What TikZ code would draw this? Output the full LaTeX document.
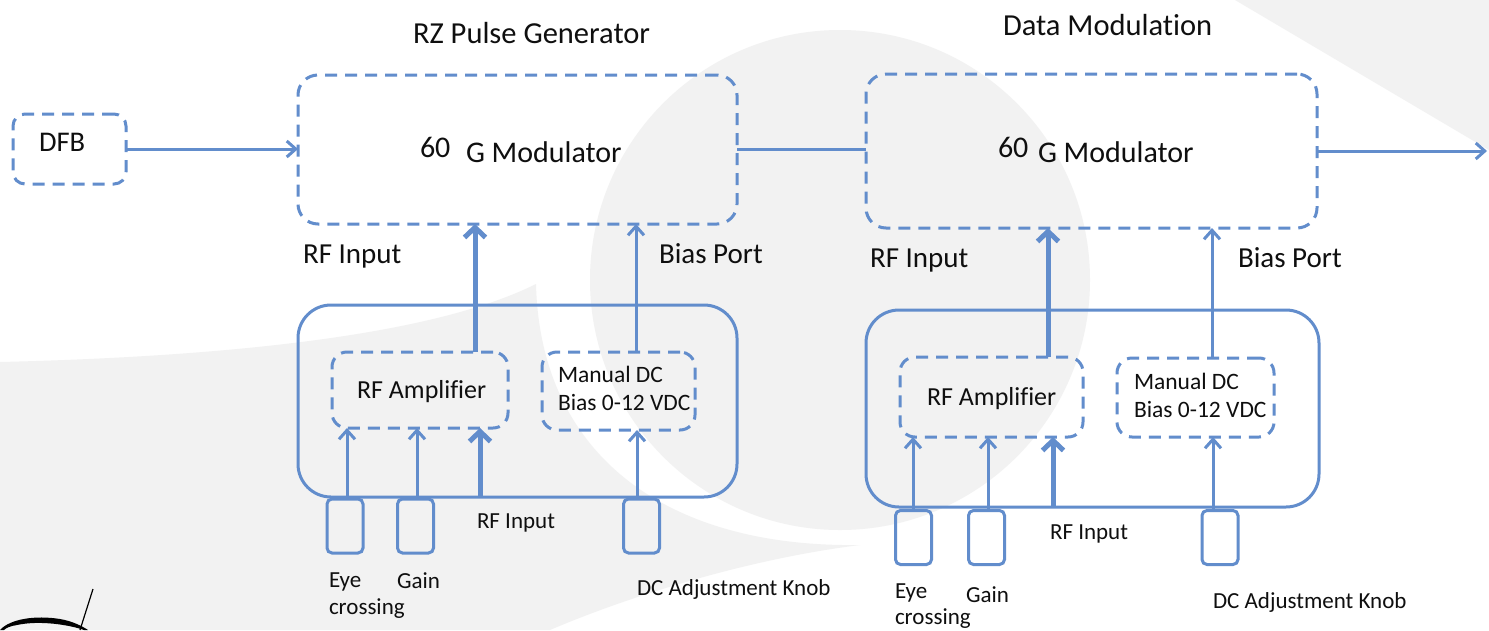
\documentclass[tikz,border=0pt]{standalone}
\usepackage{fontspec}
\setmainfont{Carlito}[Ligatures=NoCommon]
\usetikzlibrary{arrows.meta,calc}
\definecolor{lb}{RGB}{98,141,204}
\definecolor{bg}{RGB}{242,242,242}
\definecolor{ink}{RGB}{15,15,15}
\begin{document}
\begin{tikzpicture}[x=1pt,y=-1pt,
  every node/.style={inner sep=0pt,outer sep=0pt,text=ink},
  dbox/.style={draw=lb,line width=3pt,dash pattern=on 12pt off 8pt,rounded corners=#1},
  sbox/.style={draw=lb,line width=3pt,rounded corners=#1},
  knob/.style={draw=lb,line width=3pt,rounded corners=5pt,minimum width=36pt,minimum height=54pt},
  conn/.style={draw=lb,line width=3pt},
  arr/.style={draw=lb,line width=3pt,-{Straight Barb[length=9pt,width=16pt]}},
  bigarr/.style={draw=lb,line width=5pt,-{Straight Barb[length=10pt,width=21pt]}},
  ttl/.style={anchor=base west,font=\fontsize{30.5}{36}\selectfont},
  modt/.style={anchor=base west,font=\fontsize{30}{36}\selectfont},
  port/.style={anchor=base west,font=\fontsize{29}{34}\selectfont},
  ampt/.style={anchor=base west,font=\fontsize{26}{31}\selectfont},
  dct/.style={anchor=base west,align=left,font=\fontsize{23.5}{28}\selectfont},
  smt/.style={anchor=base west,align=left,font=\fontsize{23}{27}\selectfont}
]
\useasboundingbox (0,0) rectangle (1489,630);
% background
\fill[white] (0,0) rectangle (1489,630);
\fill[bg] (1235,0) -- (1489,0) -- (1489,150) -- cycle;
\fill[bg] (840,280) circle[radius=250pt];
\fill[bg] (0,362) .. controls (250,356) and (440,332) .. (536,284)
  .. controls (540,450) and (660,548) .. (860,545)
  .. controls (740,560) and (620,600) .. (550,630) -- (0,630) -- cycle;
% logo fragment
\draw[line width=1.2pt] (93,589) -- (80,630);
\fill (0,630) .. controls (10,619) and (35,615) .. (60,619)
  .. controls (72,621) and (82,626) .. (88,630) -- (84,630)
  .. controls (70,625) and (40,620) .. (17,625)
  .. controls (10,626) and (6,628) .. (4,630) -- cycle;

% boxes
\node[dbox=12pt,minimum width=113pt,minimum height=70pt] (dfb) at (69.5,149) {};
\node[dbox=20pt,minimum width=439pt,minimum height=149pt] (mod1) at (517.5,149.5) {};
\node[dbox=20pt,minimum width=451pt,minimum height=154pt] (mod2) at (1091.5,151) {};
\node[sbox=33pt,minimum width=439pt,minimum height=192pt] (big1) at (517.5,401) {};
\node[sbox=33pt,minimum width=453pt,minimum height=197pt] (big2) at (1092.5,408.5) {};
\node[dbox=15pt,minimum width=176pt,minimum height=76pt] (amp1) at (420,390) {};
\node[dbox=15pt,minimum width=183pt,minimum height=80pt] (amp2) at (991.5,397) {};
\node[dbox=15pt,minimum width=153pt,minimum height=78pt] (dc1) at (618.5,391) {};
\node[dbox=15pt,minimum width=157pt,minimum height=79pt] (dc2) at (1195.5,397.5) {};
\node[knob] (eye1) at (345,526) {};
\node[knob] (gain1) at (415.5,526) {};
\node[knob] (dck1) at (641.5,526) {};
\node[knob] (eye2) at (913.5,537.5) {};
\node[knob] (gain2) at (986.5,537.5) {};
\node[knob] (dck2) at (1220,537.5) {};

% texts
\node[anchor=base west,font=\fontsize{28.5}{34}\selectfont] (dfbt) at (39,151) {DFB};
\node[ttl] (t1) at (413,43) {RZ Pulse Generator};
\node[ttl] (t2) at (1003,35) {Data Modulation};
\node[modt] (m1a) at (420,157) {60};
\node[modt] (m1b) at (466,162) {G Modulator};
\node[modt] (m2a) at (998,157) {60};
\node[modt] (m2b) at (1038,162) {G Modulator};
\node[port] (rfi1) at (303,263) {RF Input};
\node[port] (bp1) at (659,263) {Bias Port};
\node[port] (rfi2) at (870,267) {RF Input};
\node[port] (bp2) at (1238,267) {Bias Port};
\node[ampt] (amp1t) at (357,398) {RF Amplifier};
\node[ampt] (amp2t) at (927,405) {RF Amplifier};
\node[dct] (dc1t) at (558,410) {Manual DC\\Bias 0-12 VDC};
\node[dct] (dc2t) at (1134,417) {Manual DC\\Bias 0-12 VDC};
\node[smt] (rfs1) at (477,528) {RF Input};
\node[smt] (rfs2) at (1050,539) {RF Input};
\node[smt] (eyet1) at (329,614) {Eye\\crossing};
\node[smt] (gaint1) at (397,588) {Gain};
\node[smt] (dcat1) at (637,595) {DC Adjustment Knob};
\node[smt,font=\fontsize{23}{26}\selectfont] (eyet2) at (895,624) {Eye\\crossing};
\node[smt] (gaint2) at (966,602) {Gain};
\node[smt] (dcat2) at (1213,608) {DC Adjustment Knob};

% connectors
\draw[arr] (dfb.east) -- (dfb.east -| mod1.west);
\draw[conn] (mod1.east) -- (mod1.east -| mod2.west);
\coordinate (out) at (1487,151);
\draw[arr] (mod2.east) -- (out);
% section 1
\draw[bigarr] (475,0 |- amp1.north) -- (475,0 |- mod1.south);
\draw[arr] (636,0 |- dc1.north) -- (636,0 |- mod1.south);
\draw[arr] ([xshift=2pt]eye1.north) -- ([xshift=2pt]eye1.north |- amp1.south);
\draw[arr] ([xshift=1.5pt]gain1.north) -- ([xshift=1.5pt]gain1.north |- amp1.south);
\coordinate (rf1) at (480,497);
\draw[bigarr] (rf1) -- (rf1 |- amp1.south);
\draw[arr] ([xshift=-4.5pt]dck1.north) -- ([xshift=-4.5pt]dck1.north |- dc1.south);
% section 2
\draw[bigarr] (1048,0 |- amp2.north) -- (1048,0 |- mod2.south);
\draw[arr] (1212,0 |- dc2.north) -- (1212,0 |- mod2.south);
\draw[arr] ([xshift=-0.5pt]eye2.north) -- ([xshift=-0.5pt]eye2.north |- amp2.south);
\draw[arr] ([xshift=1.5pt]gain2.north) -- ([xshift=1.5pt]gain2.north |- amp2.south);
\coordinate (rf2) at (1053,507);
\draw[bigarr] (rf2) -- (rf2 |- amp2.south);
\draw[arr] ([xshift=-7pt]dck2.north) -- ([xshift=-7pt]dck2.north |- dc2.south);
\end{tikzpicture}
\end{document}
